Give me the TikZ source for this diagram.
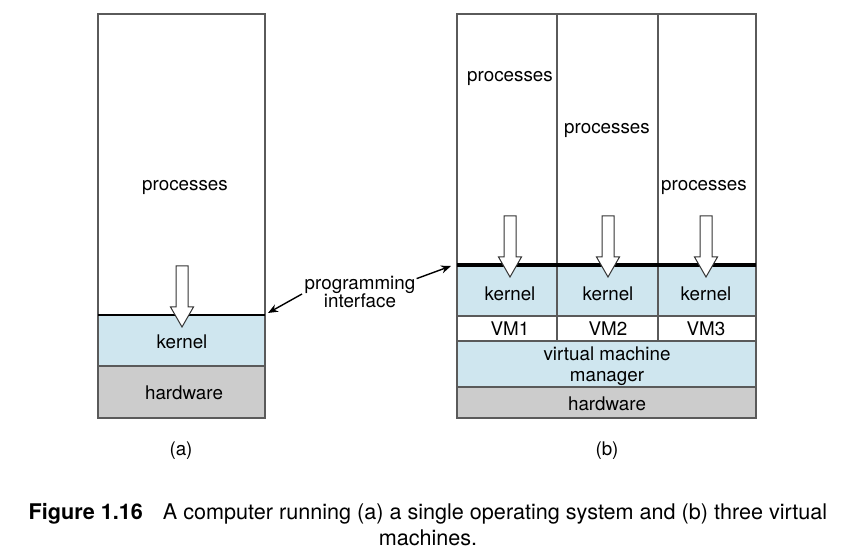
\documentclass[tikz,border=0pt]{standalone}
\usepackage{fontspec}
\setmainfont{TeX Gyre Heros}
\definecolor{kernelblue}{HTML}{CFE6EF}
\definecolor{hwgray}{HTML}{CCCCCC}
\definecolor{edgegray}{HTML}{5A5A5A}
\tikzset{
  layer/.style={draw=edgegray,line width=0.6pt},
  lbl/.style={font=\fontsize{9.4}{10.5}\selectfont,inner sep=0pt,align=center},
  hollow/.style={draw=black!80,fill=white,line width=0.5pt,line join=miter},
  ifarrow/.style={line width=0.7pt,-{Stealth[length=5pt,width=4pt]}}
}
\usetikzlibrary{arrows.meta}

\begin{document}
\begin{tikzpicture}[x=0.5pt,y=-0.5pt]
\useasboundingbox (0,0) rectangle (864,560);

% (a) single operating system
\draw [layer,fill=white] (98,14) rectangle (265,315) ;
\draw [layer,fill=kernelblue] (98,315) rectangle (265,366) ;
\draw [layer,fill=hwgray] (98,366) rectangle (265,418) ;
\draw [line width=0.9pt] (98,315) -- (265,315) ;
\node [lbl] (procA) at (185,187) {processes} ;
\node [lbl] (kernA) at (182,342) {kernel} ;
\node [lbl] (hwA) at (184,393) {hardware} ;
\draw [hollow] (176,266) -- (188,266) -- (188,307) -- (193.5,307) -- (182,327)
  -- (170.5,307) -- (176,307) -- cycle ;

% (b) three virtual machines
\draw [layer,fill=white] (457,14) rectangle (756,265) ;
\draw [layer] (557,14) -- (557,341) ;
\draw [layer] (658,14) -- (658,341) ;
\draw [layer,fill=kernelblue] (457,265) rectangle (756,316) ;
\draw [layer,fill=white] (457,316) rectangle (756,341) ;
\draw [layer] (557,265) -- (557,341) ;
\draw [layer] (658,265) -- (658,341) ;
\draw [layer,fill=kernelblue] (457,341) rectangle (756,387) ;
\draw [layer,fill=hwgray] (457,387) rectangle (756,418) ;
\draw [line width=1.6pt] (457,265) -- (756,265) ;
\node [lbl] (procB1) at (510,78) {processes} ;
\node [lbl] (procB2) at (607,130) {processes} ;
\node [lbl] (procB3) at (704,187) {processes} ;
\foreach \cx/\i in {510/1,608/2,706/3} {
  \draw [hollow] (\cx-6,216) -- (\cx+6,216) -- (\cx+6,257) -- (\cx+11.5,257)
    -- (\cx,277) -- (\cx-11.5,257) -- (\cx-6,257) -- cycle ;
  \node [lbl] (kernB\i) at (\cx,294) {kernel} ;
  \node [lbl] (vm\i) at (\cx,329) {VM\i} ;
}
\node [lbl] (vmm) at (607,366) {virtual machine\\manager} ;
\node [lbl] (hwB) at (607,404) {hardware} ;

% programming interface
\node [lbl,font=\fontsize{9.4}{9.2}\selectfont] (pi) at (360,292) {programming\\interface} ;
\coordinate (ifA) at (268,313) ;
\coordinate (ifB) at (451,266) ;
\draw [ifarrow] (302,294) -- (ifA) ;
\draw [ifarrow] (pi.north east) ++(1,3) -- (ifB) ;

% labels and caption
\node [lbl] (subA) at (181,451) {(a)} ;
\node [lbl] (subB) at (607,451) {(b)} ;
\node [lbl,font=\fontsize{10.8}{13}\selectfont] (cap) at (428,525) {\textbf{Figure 1.16}\hspace{10pt}A computer running (a) a single operating system and (b) three virtual\\machines.} ;

\end{tikzpicture}
\end{document}
